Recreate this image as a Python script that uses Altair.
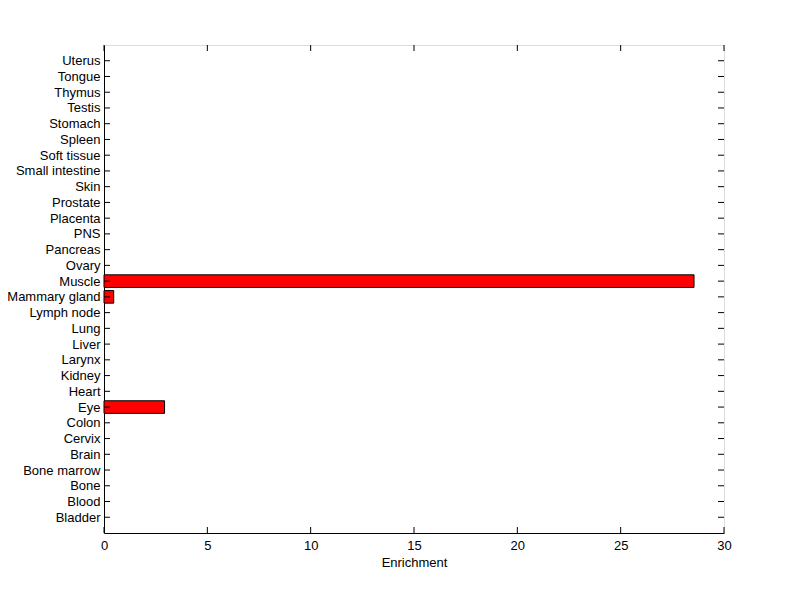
import altair as alt
import pandas as pd

tissues = ["Bladder", "Blood", "Bone", "Bone marrow", "Brain", "Cervix", "Colon", "Eye",
           "Heart", "Kidney", "Larynx", "Liver", "Lung", "Lymph node", "Mammary gland",
           "Muscle", "Ovary", "Pancreas", "PNS", "Placenta", "Prostate", "Skin",
           "Small intestine", "Soft tissue", "Spleen", "Stomach", "Testis", "Thymus",
           "Tongue", "Uterus"]
enrichment = [0, 0, 0, 0, 0, 0, 0, 2.93, 0, 0, 0, 0, 0, 0, 0.47, 28.55, 0, 0, 0, 0, 0, 0,
              0, 0, 0, 0, 0, 0, 0, 0]
x_ticks = [0, 5, 10, 15, 20, 25, 30]

W, H = 620, 488
FONT = "Liberation Sans"
FS = 13

df = pd.DataFrame({"tissue": tissues, "idx": list(range(1, len(tissues) + 1)), "value": enrichment})
xt = pd.DataFrame({"t": x_ticks})

label_map = "{" + ",".join(f'"{i+1}":"{t}"' for i, t in enumerate(tissues)) + "}"

xscale = alt.Scale(domain=[0, 30], nice=False, zero=False)
yscale = alt.Scale(domain=[0, 31], nice=False, zero=False)

xaxis = alt.Axis(values=x_ticks, title="Enrichment", tickSize=0, grid=False,
                 domainColor="black", labelColor="black", labelFont=FONT,
                 labelFontSize=FS, titleFont=FONT, titleFontSize=FS,
                 titleFontWeight="normal", titleColor="black", labelPadding=6,
                 titlePadding=4, format="d", labelFlush=False, labelOverlap=False)
yaxis = alt.Axis(values=list(range(1, 31)), title=None, tickSize=0, grid=False,
                 domainColor="black", labelColor="black", labelFont=FONT,
                 labelFontSize=FS, labelPadding=4, labelOverlap=False,
                 labelFlush=False, labelExpr=f"{label_map}[datum.value]")

base = alt.Chart(df)

bars = base.transform_filter("datum.value > 0").transform_calculate(
    y0="datum.idx - 0.4", y1="datum.idx + 0.4", x0="0"
).mark_rect(color="#ff0000", stroke="black", strokeWidth=1).encode(
    x=alt.X("x0:Q", scale=xscale, axis=xaxis),
    x2="value:Q",
    y=alt.Y("y0:Q", scale=yscale, axis=yaxis),
    y2="y1:Q",
)

left_ticks = base.mark_rule(color="black", strokeWidth=1).encode(
    y=alt.Y("idx:Q", scale=yscale, axis=yaxis), x=alt.value(0), x2=alt.value(6))
right_ticks = base.mark_rule(color="black", strokeWidth=1).encode(
    y=alt.Y("idx:Q", scale=yscale, axis=yaxis), x=alt.value(W - 6), x2=alt.value(W))
bottom_ticks = alt.Chart(xt).mark_rule(color="black", strokeWidth=1).encode(
    x=alt.X("t:Q", scale=xscale, axis=xaxis), y=alt.value(H - 6), y2=alt.value(H))
top_ticks = alt.Chart(xt).mark_rule(color="black", strokeWidth=1).encode(
    x=alt.X("t:Q", scale=xscale, axis=xaxis), y=alt.value(0), y2=alt.value(6))

chart = alt.layer(bars, left_ticks, right_ticks, bottom_ticks, top_ticks).properties(
    width=W, height=H,
    autosize=alt.AutoSizeParams(type="none"),
    padding={"left": 96, "top": 37, "right": 68, "bottom": 58},
).configure_view(stroke="black", strokeWidth=1).configure(background="white")

chart.save("out.html", embed_options={"renderer": "svg", "actions": False})
